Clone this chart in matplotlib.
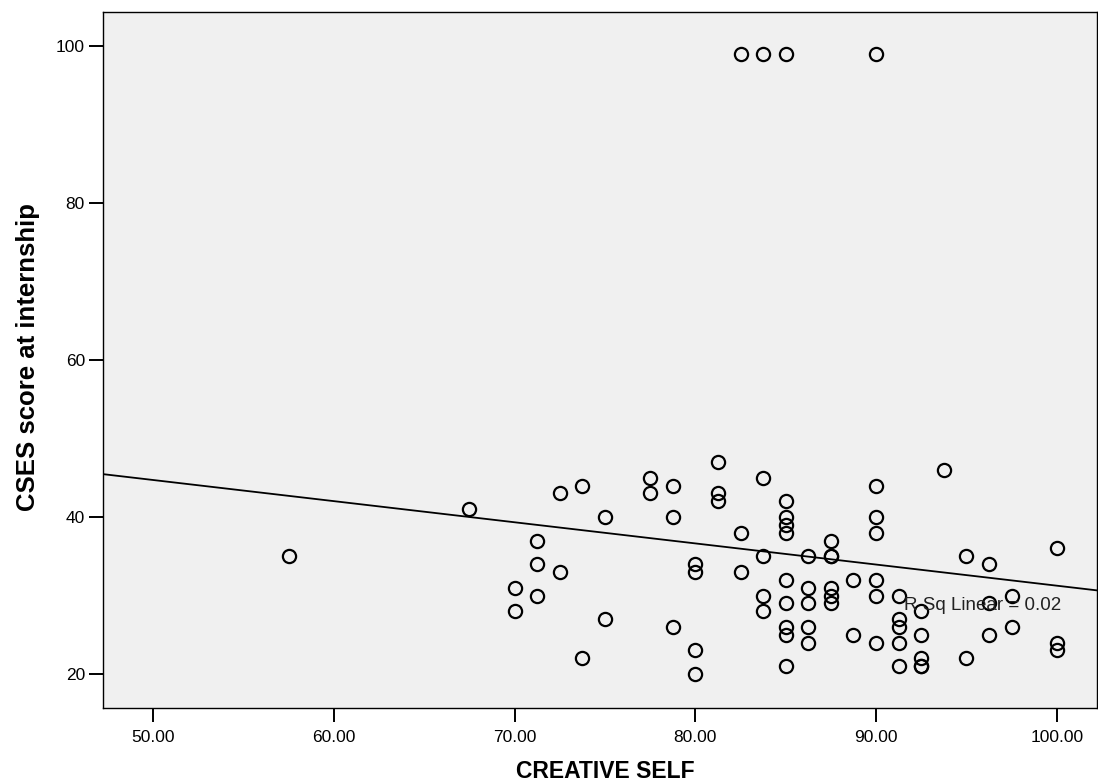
import numpy as np
import matplotlib.pyplot as plt

# CREATIVE SELF (x) and CSES score at internship (y)
creative_self = [
    57.5, 67.5, 70, 70, 71.25, 71.25, 71.25, 72.5, 72.5, 73.75, 73.75,
    75, 75, 77.5, 77.5, 78.75, 78.75, 78.75, 80, 80, 80, 80,
    81.25, 81.25, 81.25, 82.5, 82.5, 82.5, 83.75, 83.75, 83.75, 83.75, 83.75,
    85, 85, 85, 85, 85, 85, 85, 85, 85, 85,
    86.25, 86.25, 86.25, 86.25, 86.25,
    87.5, 87.5, 87.5, 87.5, 87.5, 87.5,
    88.75, 88.75,
    90, 90, 90, 90, 90, 90, 90,
    91.25, 91.25, 91.25, 91.25, 91.25,
    92.5, 92.5, 92.5, 92.5, 92.5,
    93.75, 95, 95, 96.25, 96.25, 96.25, 97.5, 97.5, 100, 100, 100,
]
cses_score = [
    35, 41, 31, 28, 37, 34, 30, 43, 33, 44, 22,
    40, 27, 45, 43, 44, 40, 26, 34, 33, 23, 20,
    47, 43, 42, 99, 38, 33, 99, 45, 35, 30, 28,
    99, 42, 40, 39, 38, 32, 29, 26, 25, 21,
    35, 31, 29, 26, 24,
    37, 35, 35, 31, 30, 29,
    32, 25,
    99, 44, 40, 38, 32, 30, 24,
    30, 27, 26, 24, 21,
    28, 25, 22, 21, 21,
    46, 35, 22, 34, 29, 25, 30, 26, 36, 24, 23,
]
x_ticks = [50, 60, 70, 80, 90, 100]
y_ticks = [20, 40, 60, 80, 100]

x = np.array(creative_self)
y = np.array(cses_score)
slope, intercept = np.polyfit(x, y, 1)
r2 = np.corrcoef(x, y)[0, 1] ** 2

plt.rcParams['font.family'] = ['Liberation Sans', 'DejaVu Sans']

fig = plt.figure(figsize=(10.98, 7.82), dpi=100)
ax = fig.add_axes([0.0938, 0.0946, 0.9053, 0.8900])
ax.set_facecolor('#f0f0f0')

xlim = (47.216, 102.23)
ax.set_xlim(*xlim)
ax.set_ylim(15.67, 104.33)

ax.plot(x, y, linestyle='none', marker='o', markersize=9.5,
        markerfacecolor='none', markeredgecolor='black', markeredgewidth=1.6)

xl = np.array(xlim)
ax.plot(xl, intercept + slope * xl, color='black', linewidth=1.3)

ax.text(95.89, 28.79, f"R Sq Linear = {r2:.2f}", fontsize=13.5,
        color='#222222', ha='center', va='center')

ax.set_xticks(x_ticks)
ax.set_xticklabels([f"{t:.2f}" for t in x_ticks], fontsize=12.5)
ax.set_yticks(y_ticks)
ax.set_yticklabels([str(t) for t in y_ticks], fontsize=12.5)
ax.tick_params(axis='x', direction='out', length=10, width=1.4, pad=6)
ax.tick_params(axis='y', direction='out', length=10, width=1.4, pad=3)

for s in ax.spines.values():
    s.set_linewidth(1.0)

ax.set_xlabel('CREATIVE SELF', fontsize=16.5, fontweight='bold', va='center')
ax.set_ylabel('CSES score at internship', fontsize=18.5, fontweight='bold', va='center')
ax.xaxis.set_label_coords(0.5055, -0.0905)
ax.yaxis.set_label_coords(-0.0754, 0.504)

fig.savefig('out.png', dpi=100)
